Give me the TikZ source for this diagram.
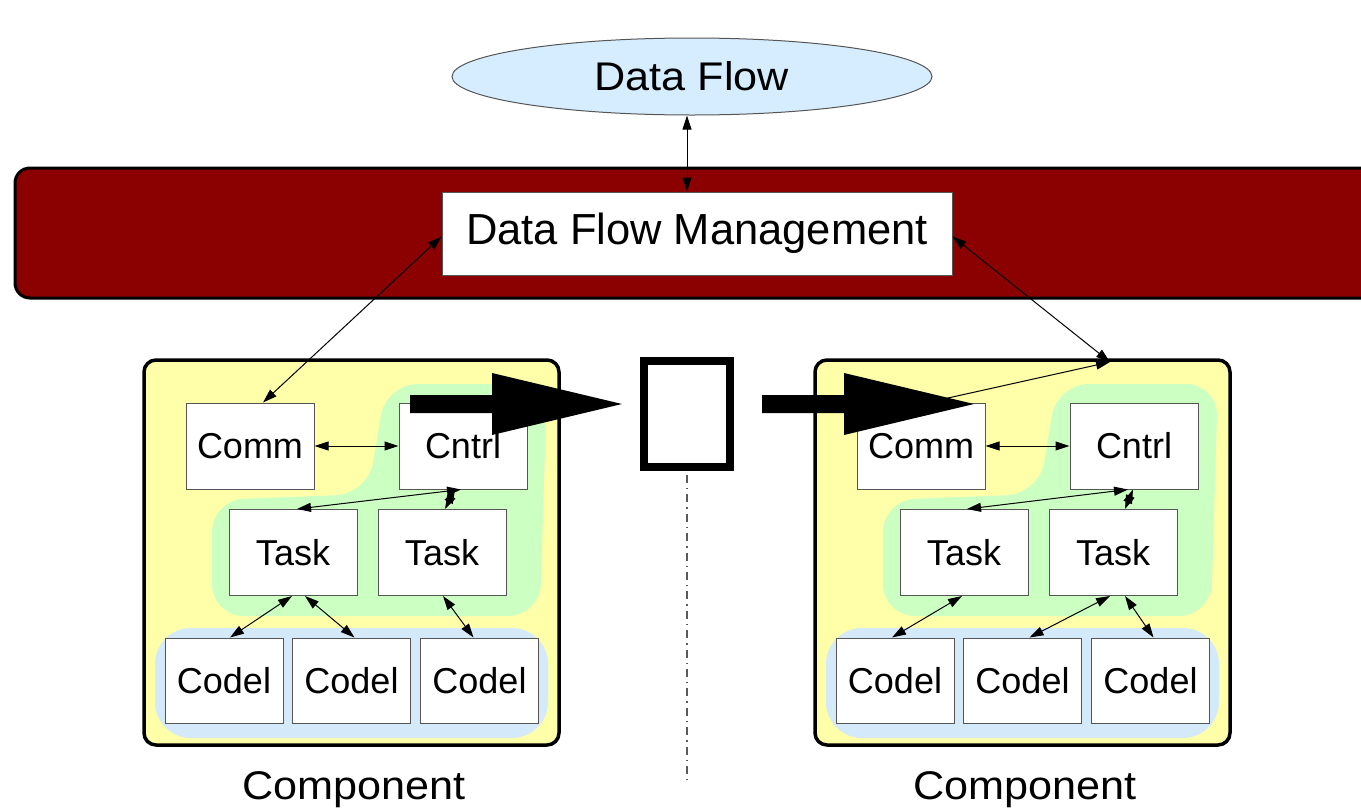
\documentclass[tikz,border=0pt]{standalone}
\usepackage{fontspec}
\setmainfont{Liberation Sans}
\newfontfamily\widefont[FakeStretch=1.08]{Liberation Sans}
\usetikzlibrary{arrows.meta,calc,shapes.geometric}
\definecolor{bandred}{RGB}{139,0,0}
\definecolor{compyellow}{RGB}{255,255,170}
\definecolor{blobgreen}{RGB}{204,255,194}
\definecolor{blobblue}{RGB}{212,234,250}
\definecolor{flowblue}{RGB}{214,236,255}
\definecolor{boxgray}{RGB}{85,85,85}
\definecolor{axisgray}{RGB}{90,90,90}
\tikzset{
  box/.style={draw=boxgray, line width=0.5pt, fill=white, inner sep=0pt,
    font=\fontsize{18}{22}\selectfont},
  smallbox/.style={box, minimum width=64pt, minimum height=43pt},
  codelbox/.style={box, minimum width=59pt, minimum height=42.5pt},
  comp/.style={draw=black, line width=1.75pt, fill=compyellow, rounded corners=6pt,
    minimum width=207.5pt, minimum height=192.5pt, inner sep=0pt},
  complabel/.style={anchor=base, inner sep=0pt, font=\fontsize{20}{24}\widefont},
  link/.style={line width=0.5pt, {Triangle[length=7pt,width=4.5pt]}-{Triangle[length=7pt,width=4.5pt]}},
  onelink/.style={line width=0.5pt, -{Triangle[length=7pt,width=4.5pt]}},
  bigarrow/.style={fill=black},
  axisline/.style={draw=axisgray, line width=0.75pt, dash pattern=on 4pt off 2.5pt on 0.7pt off 2.5pt},
}
\newcommand\makecomp[2]{%
\begin{scope}[shift={(#2,0)}]
  \node[comp] (#1box) at (351.5,552.5) {};
  \fill[blobblue, rounded corners=18pt] (155,628) rectangle (548,738);
  \fill[blobgreen, rounded corners=16pt] (386,384) -- (547,384) -- (540,616)
      -- (212,616) -- (212,500) -- (368,494) -- cycle;
  \node[smallbox] (#1comm)  at (250,446) {Comm};
  \node[smallbox] (#1cntrl) at (463,446) {Cntrl};
  \node[smallbox] (#1taska) at (293,552.5) {Task};
  \node[smallbox] (#1taskb) at (442,552.5) {Task};
  \node[codelbox] (#1codela) at (224,680.5) {Codel};
  \node[codelbox] (#1codelb) at (351.5,680.5) {Codel};
  \node[codelbox] (#1codelc) at (479.5,680.5) {Codel};
  \node[complabel] (#1label) at (354,799) {Component};
  \draw[link] (#1comm.east) -- (#1cntrl.west);
\end{scope}}
\begin{document}
\begin{tikzpicture}[x=0.5pt,y=-0.5pt]
\useasboundingbox (0,0) rectangle (1361,809);
% band
\draw[fill=bandred, line width=1.5pt, rounded corners=7.5pt] (15,168) rectangle (1420,298);
\node[box, minimum width=255pt, minimum height=41.5pt, font=\fontsize{21.75}{26}\selectfont]
  (dfm) at (697,233.5) {Data Flow Management};
\node[ellipse, draw=boxgray, line width=0.5pt, fill=flowblue, minimum width=240pt,
  minimum height=38.5pt, inner sep=0pt, font=\fontsize{20}{24}\widefont] (flow) at (692,76.5) {Data Flow};
\coordinate (fa) at ($(dfm.north)+(-10,0)$);
\draw[link] (fa |- flow.south) -- (fa);
% components
\makecomp{L}{0}
\makecomp{R}{671}
% left links
\draw[link] ($(dfm.west)+(0,3)$) -- ($(Lcomm.north)+(13,0)$);
\draw[link] ($(Lcntrl.south)+(-2,0)$) -- ($(Ltaska.north)+(4,0)$);
\draw[link] ($(Ltaskb.north)+(3,0)$) -- ($(Lcntrl.south)+(-8,0)$);
\draw[link] ($(Ltaska.south)+(-1,0)$) -- ($(Lcodela.north)+(6,0)$);
\draw[link] ($(Ltaska.south)+(12,0)$) -- ($(Lcodelb.north)+(3,0)$);
\draw[link] ($(Ltaskb.south)+(1,0)$) -- ($(Lcodelc.north)+(-6,0)$);
% right links
\coordinate (rp) at (1110,362);
\coordinate (rc) at (930,402);
\draw[link] ($(dfm.east)+(0,3)$) -- (rp);
\draw[onelink] (rc) -- (rp);
\draw[link] ($(Rcntrl.south)+(-6,0)$) -- ($(Rtaska.north)+(3,0)$);
\draw[link] ($(Rtaskb.north)+(12,0)$) -- ($(Rcntrl.south)+(-1,0)$);
\draw[link] ($(Rtaska.south)+(-2,0)$) -- ($(Rcodela.north)+(-3,0)$);
\draw[link] ($(Rtaskb.south)+(-3,0)$) -- ($(Rcodelb.north)+(7,0)$);
\draw[link] ($(Rtaskb.south)+(12,0)$) -- ($(Rcodelc.north)+(3,0)$);
% middle buffer
\node[draw=black, fill=white, line width=4pt, minimum width=43pt, minimum height=53pt,
  inner sep=0pt] (buf) at (687,414) {};
\coordinate (axisend) at (687,785);
\draw[axisline] ($(buf.south)+(0,4)$) -- (axisend);
% big arrows
\fill[bigarrow] (410,395) -- (492,395) -- (492,373) -- (622,404) -- (492,435) -- (492,413) -- (410,413) -- cycle;
\fill[bigarrow] (762,395) -- (844,395) -- (844,373) -- (974,404) -- (844,435) -- (844,413) -- (762,413) -- cycle;
\end{tikzpicture}
\end{document}
